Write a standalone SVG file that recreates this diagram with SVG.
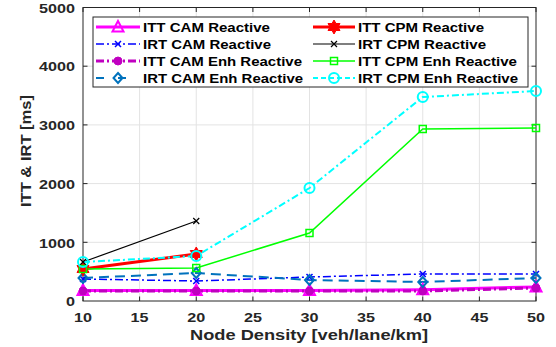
<svg xmlns="http://www.w3.org/2000/svg" xmlns:xlink="http://www.w3.org/1999/xlink" width="556" height="347" viewBox="0 0 556 347">
<style>
text{font-family:"Liberation Sans",Arial,sans-serif;font-weight:bold;fill:#262626}
.grid{stroke:#e3e3e3;stroke-width:1;fill:none}
.axis{stroke:#262626;stroke-width:1;fill:none}
.tk{font-size:12.5px}
.lg{font-size:12.5px;fill:#000}
.l1{stroke:#ff00ff;stroke-width:3;fill:none}
.l2{stroke:#0000ff;stroke-width:1.5;stroke-dasharray:8 3 2 3;fill:none}
.l3{stroke:#c000c0;stroke-width:3;stroke-dasharray:8 3 2 3;fill:none}
.l4{stroke:#0072bd;stroke-width:2;stroke-dasharray:10 6;fill:none}
.l5{stroke:#ff0000;stroke-width:3;fill:none}
.l6{stroke:#000000;stroke-width:1.2;fill:none}
.l7{stroke:#00ff00;stroke-width:1.5;fill:none}
.l8{stroke:#00ffff;stroke-width:2;stroke-dasharray:7 3 2 3;fill:none}
</style>
<defs>
<g id="mTri"><polygon points="0,-6 5.5,4.5 -5.5,4.5" fill="none" stroke="#ff00ff" stroke-width="2"/></g>
<g id="mXb"><path d="M-3,-3L3,3M-3,3L3,-3" stroke="#0000ff" stroke-width="1.5"/></g>
<g id="mDot"><circle r="4" fill="#c000c0" stroke="#c000c0" stroke-width="1"/></g>
<g id="mDia"><polygon points="0,-5 4.5,0 0,5 -4.5,0" fill="none" stroke="#0072bd" stroke-width="2"/></g>
<g id="mHex"><polygon points="0,-7 2,-3.5 6,-3.5 4,0 6,3.5 2,3.5 0,7 -2,3.5 -6,3.5 -4,0 -6,-3.5 -2,-3.5" fill="#ff0000" stroke="#ff0000" stroke-width="1"/></g>
<g id="mXk"><path d="M-3,-3L3,3M-3,3L3,-3" stroke="#000" stroke-width="1.2"/></g>
<g id="mSq"><rect x="-3.5" y="-3.5" width="7" height="7" fill="none" stroke="#00ff00" stroke-width="1.5"/></g>
<g id="mCir"><circle r="5" fill="none" stroke="#00ffff" stroke-width="2"/></g>
</defs>
<rect width="556" height="347" fill="#ffffff"/>
<g id="grid">
<path class="grid" d="M139.6,7.5V301M196.25,7.5V301M252.9,7.5V301M309.5,7.5V301M366.1,7.5V301M422.75,7.5V301M479.4,7.5V301M83,242.3H536M83,183.6H536M83,124.9H536M83,66.2H536"/>
</g>
<g id="axes">
<rect class="axis" x="83" y="7.5" width="453" height="293.5"/>
<path class="axis" d="M83,301v-4.5M139.6,301v-4.5M196.25,301v-4.5M252.9,301v-4.5M309.5,301v-4.5M366.1,301v-4.5M422.75,301v-4.5M479.4,301v-4.5M536,301v-4.5M83,7.5v4.5M139.6,7.5v4.5M196.25,7.5v4.5M252.9,7.5v4.5M309.5,7.5v4.5M366.1,7.5v4.5M422.75,7.5v4.5M479.4,7.5v4.5M536,7.5v4.5M83,242.3h4.5M83,183.6h4.5M83,124.9h4.5M83,66.2h4.5M536,242.3h-4.5M536,183.6h-4.5M536,124.9h-4.5M536,66.2h-4.5"/>
<g class="tk" text-anchor="end">
<text x="75" y="306" textLength="9" lengthAdjust="spacingAndGlyphs">0</text>
<text x="75" y="247.5" textLength="36" lengthAdjust="spacingAndGlyphs">1000</text>
<text x="75" y="188.8" textLength="36" lengthAdjust="spacingAndGlyphs">2000</text>
<text x="75" y="130.1" textLength="36" lengthAdjust="spacingAndGlyphs">3000</text>
<text x="75" y="71.4" textLength="36" lengthAdjust="spacingAndGlyphs">4000</text>
<text x="75" y="12.7" textLength="36" lengthAdjust="spacingAndGlyphs">5000</text>
</g>
<g class="tk" text-anchor="middle" style="font-size:13.5px">
<text x="83" y="322" textLength="18" lengthAdjust="spacingAndGlyphs">10</text>
<text x="139.6" y="322" textLength="18" lengthAdjust="spacingAndGlyphs">15</text>
<text x="196.25" y="322" textLength="18" lengthAdjust="spacingAndGlyphs">20</text>
<text x="252.9" y="322" textLength="18" lengthAdjust="spacingAndGlyphs">25</text>
<text x="309.5" y="322" textLength="18" lengthAdjust="spacingAndGlyphs">30</text>
<text x="366.1" y="322" textLength="18" lengthAdjust="spacingAndGlyphs">35</text>
<text x="422.75" y="322" textLength="18" lengthAdjust="spacingAndGlyphs">40</text>
<text x="479.4" y="322" textLength="18" lengthAdjust="spacingAndGlyphs">45</text>
<text x="536" y="322" textLength="18" lengthAdjust="spacingAndGlyphs">50</text>
</g>
<text x="309" y="340" text-anchor="middle" style="font-size:14px" textLength="238" lengthAdjust="spacingAndGlyphs">Node Density [veh/lane/km]</text>
<text transform="translate(31,151) rotate(-90)" text-anchor="middle" style="font-size:14.5px" textLength="112" lengthAdjust="spacingAndGlyphs">ITT &amp; IRT [ms]</text>
</g>
<g id="connectors">
<polyline class="l1" points="83,290.4 196.25,290.4 309.5,290.4 422.75,289.8 536,286.9"/>
<polyline class="l2" points="83,279 196.25,281 309.5,277 422.75,274 536,274"/>
<polyline class="l3" points="83,291 196.25,291 309.5,291 422.75,291 536,288"/>
<polyline class="l4" points="83,278 196.25,273 309.5,280 422.75,282 536,278"/>
<polyline class="l5" points="83,269 196.25,254"/>
<polyline class="l6" points="83,262 196.25,221"/>
<polyline class="l7" points="83,269 196.25,268 309.5,233 422.75,129 536,128"/>
<polyline class="l8" points="83,262 196.25,256 309.5,188 422.75,97 536,91"/>
</g>
<g id="markers">
<g id="s-itt-cam-r"><use xlink:href="#mTri" x="83" y="290.4"/><use xlink:href="#mTri" x="196.25" y="290.4"/><use xlink:href="#mTri" x="309.5" y="290.4"/><use xlink:href="#mTri" x="422.75" y="289.8"/><use xlink:href="#mTri" x="536" y="286.9"/></g>
<g id="s-irt-cam-r"><use xlink:href="#mXb" x="83" y="279"/><use xlink:href="#mXb" x="196.25" y="281"/><use xlink:href="#mXb" x="309.5" y="277"/><use xlink:href="#mXb" x="422.75" y="274"/><use xlink:href="#mXb" x="536" y="274"/></g>
<g id="s-itt-cam-e"><use xlink:href="#mDot" x="83" y="291"/><use xlink:href="#mDot" x="196.25" y="291"/><use xlink:href="#mDot" x="309.5" y="291"/><use xlink:href="#mDot" x="422.75" y="291"/><use xlink:href="#mDot" x="536" y="288"/></g>
<g id="s-irt-cam-e"><use xlink:href="#mDia" x="83" y="278"/><use xlink:href="#mDia" x="196.25" y="273"/><use xlink:href="#mDia" x="309.5" y="280"/><use xlink:href="#mDia" x="422.75" y="282"/><use xlink:href="#mDia" x="536" y="278"/></g>
<g id="s-itt-cpm-r"><use xlink:href="#mHex" x="83" y="269"/><use xlink:href="#mHex" x="196.25" y="254"/></g>
<g id="s-irt-cpm-r"><use xlink:href="#mXk" x="83" y="262"/><use xlink:href="#mXk" x="196.25" y="221"/></g>
<g id="s-itt-cpm-e"><use xlink:href="#mSq" x="83" y="269"/><use xlink:href="#mSq" x="196.25" y="268"/><use xlink:href="#mSq" x="309.5" y="233"/><use xlink:href="#mSq" x="422.75" y="129"/><use xlink:href="#mSq" x="536" y="128"/></g>
<g id="s-irt-cpm-e"><use xlink:href="#mCir" x="83" y="262"/><use xlink:href="#mCir" x="196.25" y="256"/><use xlink:href="#mCir" x="309.5" y="188"/><use xlink:href="#mCir" x="422.75" y="97"/><use xlink:href="#mCir" x="536" y="91"/></g>
</g>
<g id="legend">
<rect x="93" y="17" width="435" height="70" fill="#ffffff" stroke="#262626" stroke-width="1"/>
<path class="l1" d="M96,27H140" style="stroke-dasharray:none"/><use xlink:href="#mTri" x="118" y="27"/>
<text class="lg" x="143" y="31.5" textLength="127" lengthAdjust="spacingAndGlyphs">ITT CAM Reactive</text>
<path class="l2" d="M96,44H140"/><use xlink:href="#mXb" x="118" y="44"/>
<text class="lg" x="143" y="48.5" textLength="128" lengthAdjust="spacingAndGlyphs">IRT CAM Reactive</text>
<path class="l3" d="M96,61H140"/><use xlink:href="#mDot" x="118" y="61"/>
<text class="lg" x="143" y="65.5" textLength="159" lengthAdjust="spacingAndGlyphs">ITT CAM Enh Reactive</text>
<path class="l4" d="M96,78H140" style="stroke-dasharray:8 14"/><use xlink:href="#mDia" x="118" y="78"/>
<text class="lg" x="143" y="82.5" textLength="160" lengthAdjust="spacingAndGlyphs">IRT CAM Enh Reactive</text>
<path class="l5" d="M313,27H355"/><use xlink:href="#mHex" x="334" y="27"/>
<text class="lg" x="358" y="31.5" textLength="126" lengthAdjust="spacingAndGlyphs">ITT CPM Reactive</text>
<path class="l6" d="M313,44H355"/><use xlink:href="#mXk" x="334" y="44"/>
<text class="lg" x="358" y="48.5" textLength="128" lengthAdjust="spacingAndGlyphs">IRT CPM Reactive</text>
<path class="l7" d="M313,61H355"/><use xlink:href="#mSq" x="334" y="61"/>
<text class="lg" x="358" y="65.5" textLength="159" lengthAdjust="spacingAndGlyphs">ITT CPM Enh Reactive</text>
<path class="l8" d="M313,78H355" style="stroke-dasharray:5 3"/><use xlink:href="#mCir" x="334" y="78"/>
<text class="lg" x="358" y="82.5" textLength="160" lengthAdjust="spacingAndGlyphs">IRT CPM Enh Reactive</text>
</g>
</svg>
